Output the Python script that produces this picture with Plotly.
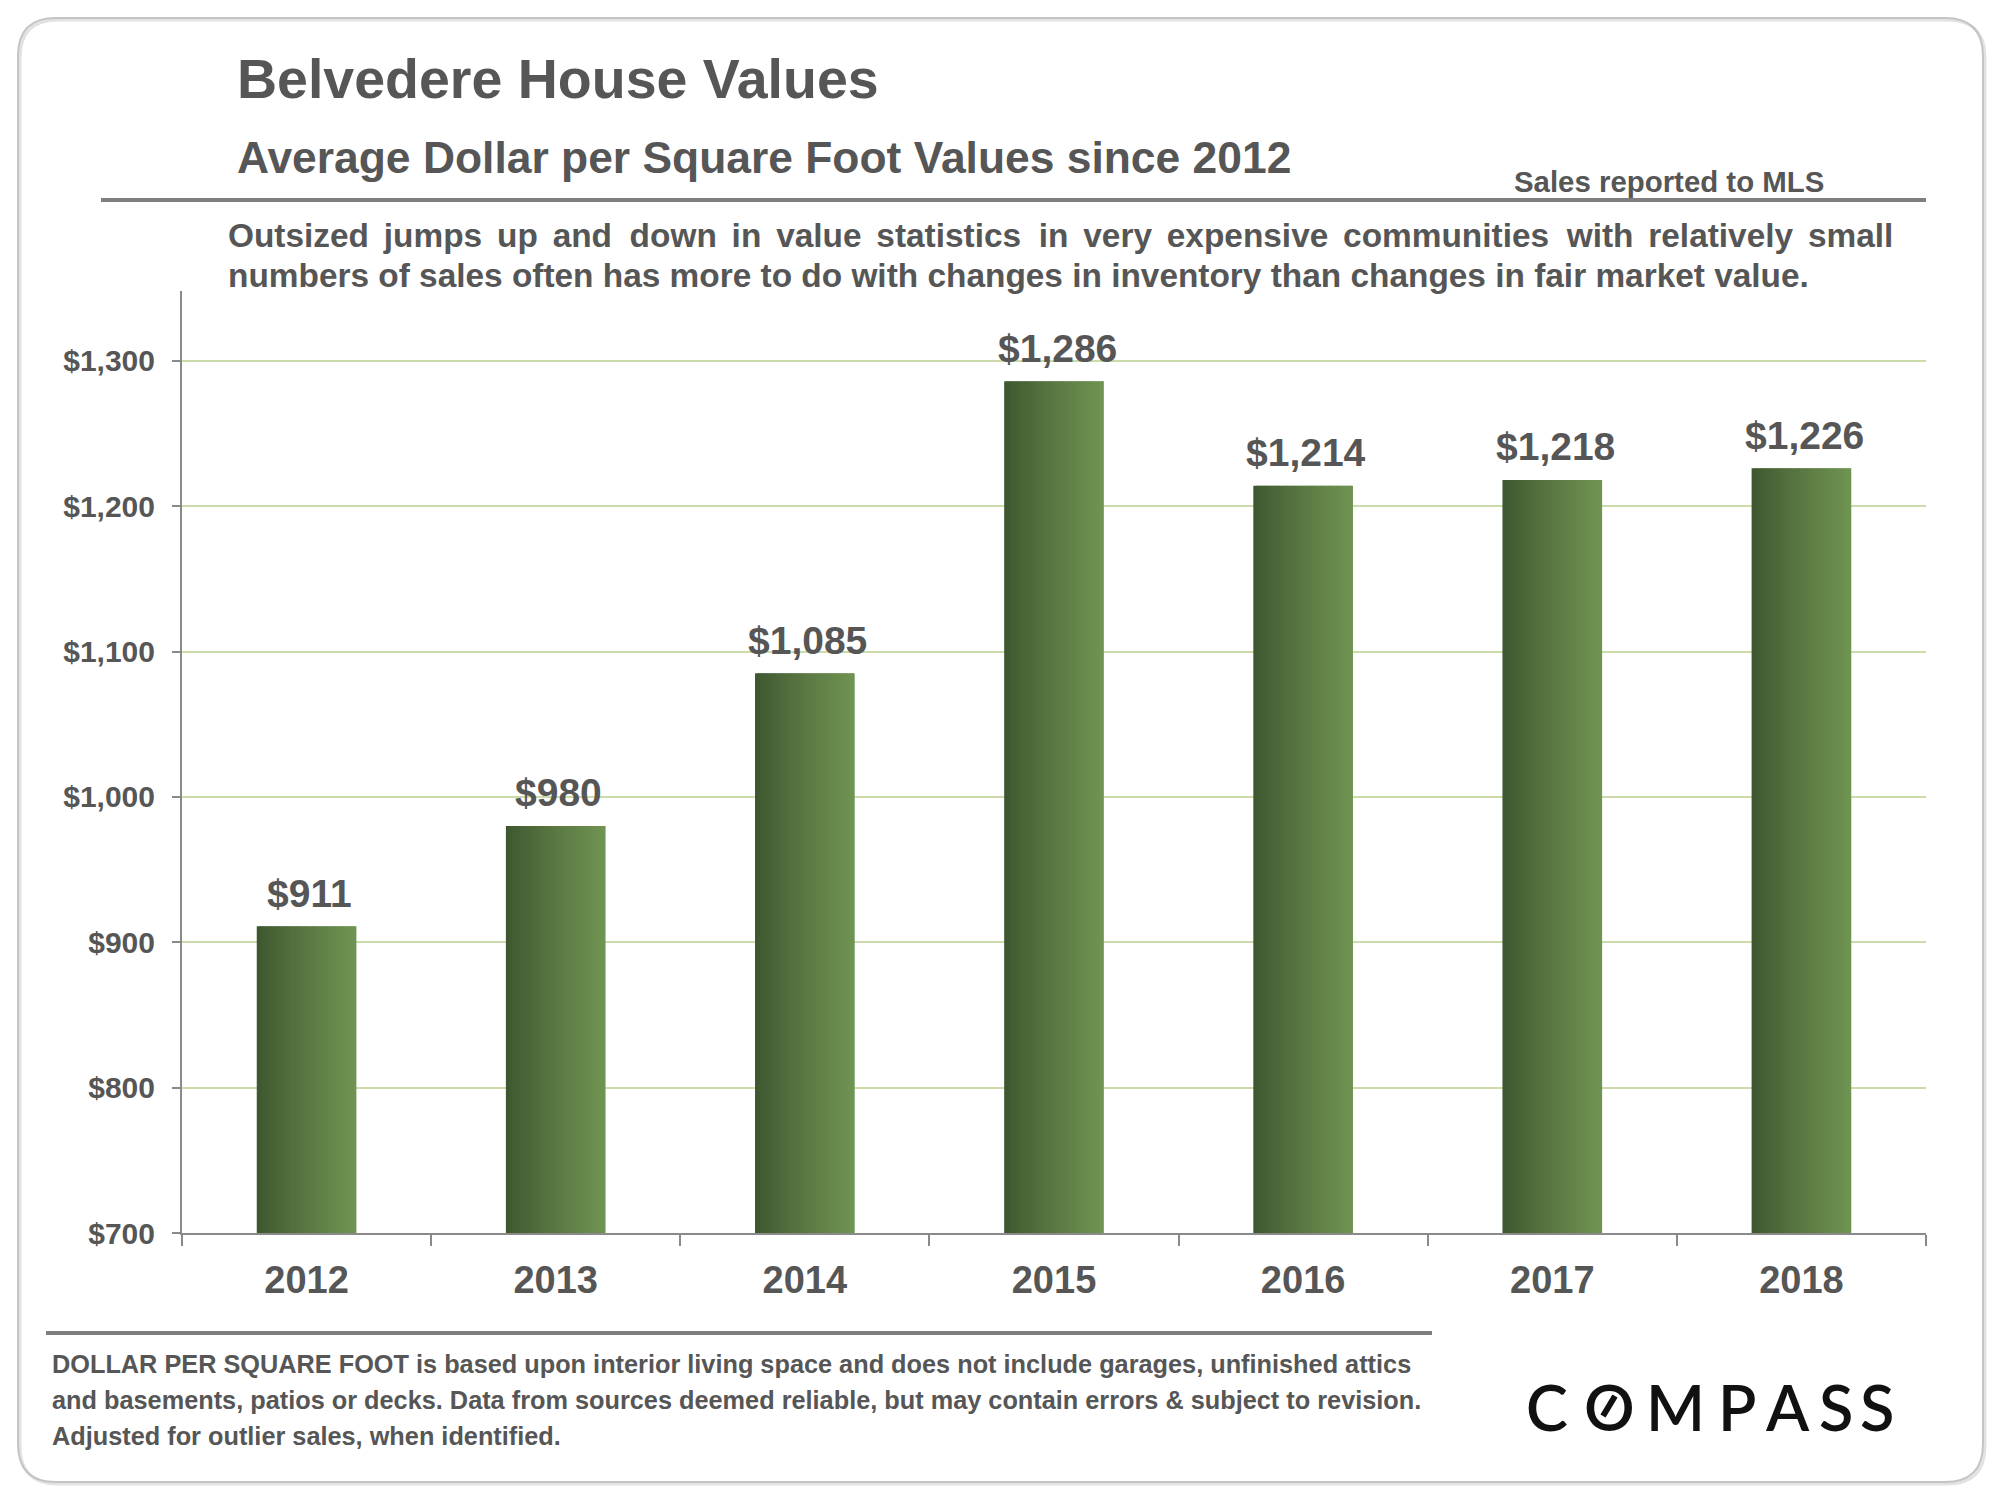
import plotly.graph_objects as go
import numpy as np

# ---------------- data ----------------
years = ["2012", "2013", "2014", "2015", "2016", "2017", "2018"]
values = [911, 980, 1085, 1286, 1214, 1218, 1226]
y_ticks = [700, 800, 900, 1000, 1100, 1200, 1300]
y_tick_text = ["${:,}".format(v) for v in y_ticks]

title = "Belvedere House Values"
subtitle = "Average Dollar per Square Foot Values since 2012"
source_note = "Sales reported to MLS"
para_line1 = ("Outsized jumps up and down in value statistics in very expensive "
              "communities with relatively small")
para_line2 = ("numbers of sales often has more to do with changes in inventory "
              "than changes in fair market value.")
footer_lines = [
    "DOLLAR PER SQUARE FOOT is based upon interior living space and does not include garages, unfinished attics",
    "and basements, patios or decks. Data from sources deemed reliable, but may contain errors & subject to revision.",
    "Adjusted for outlier sales, when identified.",
]
logo_letters = ["C", "O", "M", "P", "A", "S", "S"]

# ---------------- layout helpers ----------------
OFF = 8                      # page body margin
W, H = 2000 - OFF, 1500 - OFF
L, R, T, B = 182 - OFF, 1926 - OFF, 291 - OFF, 1233 - OFF   # plot area (figure px)


def px(x):            # x given in reference-image pixels
    return (x - OFF - L) / (R - L)


def py(y):
    return (B - (y - OFF)) / (B - T)


FONT = "Liberation Sans, Arial, Helvetica, sans-serif"
GRAY_TXT = "#565656"

fig = go.Figure()

# gradient bars built from thin overlaid slices
dark = np.array([0x3d, 0x55, 0x2f], dtype=float)
light = np.array([0x70, 0x94, 0x52], dtype=float)
N = 36
bar_w = 0.40
step = bar_w / N
for i in range(N):
    t = (i + 0.5) / N
    c = dark + (light - dark) * (t ** 0.85)
    col = "rgb(%d,%d,%d)" % tuple(int(round(v)) for v in c)
    off = -bar_w / 2 + i * step
    w = min(step * 1.6, bar_w / 2 - off)
    fig.add_trace(go.Bar(
        x=years, y=values, width=w, offset=off,
        marker=dict(color=col, line=dict(width=0)),
        hoverinfo="skip", showlegend=False,
    ))

ann = []

# value labels (category axis -> use category index)
for idx, v in enumerate(values):
    ann.append(dict(
        x=idx, y=v, xref="x", yref="y", text="${:,}".format(v),
        showarrow=False, yanchor="middle", yshift=33, xshift=3,
        font=dict(family=FONT, size=39, color=GRAY_TXT, weight="bold"),
    ))


def text(x, y, s, size, color=GRAY_TXT, weight="bold", xanchor="left",
         yanchor="middle", family=FONT):
    ann.append(dict(x=px(x), y=py(y), xref="paper", yref="paper", text=s,
                    showarrow=False, xanchor=xanchor, yanchor=yanchor,
                    font=dict(family=family, size=size, color=color, weight=weight)))


text(235, 79, title, 55.5)
text(235, 157, subtitle, 44.4)
text(1512, 182, source_note, 29.4)
# justified first line: widen the word gaps slightly
words1 = para_line1.split(" ")
line1 = words1[0]
for k, wd in enumerate(words1[1:], start=1):
    gap = " \u2006" + ("\u200a" if k % 4 == 0 else "")
    line1 += gap + wd
text(226, 236, line1, 33.4)
text(226, 276, para_line2, 33.4)
for i, line in enumerate(footer_lines):
    text(50, 1364 + 36 * i, line, 25.3)

# COMPASS logo letters
logo_x = [1547, 1609, 1675, 1737, 1787, 1836, 1877]
for ch, lx in zip(logo_letters, logo_x):
    text(lx, 1406, ch, 63, color="#111111", weight=600, xanchor="center",
         family="Lato, Noto Sans, sans-serif")

shapes = []
x0, y0, x1, y1, r = 18, 18, 1983, 1482, 38


def rr_path(x0, y0, x1, y1, r):
    pts = [
        f"M {px(x0 + r)} {py(y0)}",
        f"L {px(x1 - r)} {py(y0)}",
        f"Q {px(x1)} {py(y0)} {px(x1)} {py(y0 + r)}",
        f"L {px(x1)} {py(y1 - r)}",
        f"Q {px(x1)} {py(y1)} {px(x1 - r)} {py(y1)}",
        f"L {px(x0 + r)} {py(y1)}",
        f"Q {px(x0)} {py(y1)} {px(x0)} {py(y1 - r)}",
        f"L {px(x0)} {py(y0 + r)}",
        f"Q {px(x0)} {py(y0)} {px(x0 + r)} {py(y0)}",
        "Z",
    ]
    return " ".join(pts)


shapes.append(dict(type="path", xref="paper", yref="paper",
                   path=rr_path(x0 + 2, y0 + 2, x1 + 2, y1 + 2, r),
                   line=dict(color="#e2e2e2", width=3), layer="below"))
shapes.append(dict(type="path", xref="paper", yref="paper",
                   path=rr_path(x0, y0, x1, y1, r),
                   line=dict(color="#c4c4c4", width=2), layer="below"))
shapes.append(dict(type="line", xref="paper", yref="paper",
                   x0=px(101), x1=px(1926), y0=py(200), y1=py(200),
                   line=dict(color="#7f7f7f", width=4)))
shapes.append(dict(type="line", xref="paper", yref="paper",
                   x0=px(46), x1=px(1432), y0=py(1333), y1=py(1333),
                   line=dict(color="#7f7f7f", width=4)))
ox, oy = logo_x[1], 1406
shapes.append(dict(type="line", xref="paper", yref="paper",
                   x0=px(ox - 6), x1=px(ox + 6), y0=py(oy + 10), y1=py(oy - 10),
                   line=dict(color="#111111", width=6)))

fig.update_layout(
    width=W, height=H,
    margin=dict(l=L, r=W - R, t=T, b=H - B, pad=0),
    paper_bgcolor="white", plot_bgcolor="white",
    barmode="overlay",
    showlegend=False,
    annotations=ann,
    shapes=shapes,
    xaxis=dict(
        type="category", categoryorder="array", categoryarray=years,
        range=[-0.5, len(years) - 0.5],
        showgrid=False, showline=True, linecolor="#8a8a8a",
        linewidth=2, ticks="outside", tickson="boundaries", ticklen=11,
        tickcolor="#8a8a8a", tickwidth=2,
        tickfont=dict(family=FONT, size=38, color=GRAY_TXT, weight="bold"),
        ticklabelstandoff=12, fixedrange=True,
    ),
    yaxis=dict(
        range=[700, 1348], tickmode="array", tickvals=y_ticks, ticktext=y_tick_text,
        showgrid=True, gridcolor="#cbdcaa", gridwidth=2, zeroline=False,
        showline=True, linecolor="#8a8a8a", linewidth=2, ticks="outside",
        ticklen=8, tickcolor="#8a8a8a", tickwidth=2,
        tickfont=dict(family=FONT, size=30, color=GRAY_TXT, weight="bold"),
        ticklabelstandoff=11, fixedrange=True,
    ),
)

fig.write_html("out.html")
